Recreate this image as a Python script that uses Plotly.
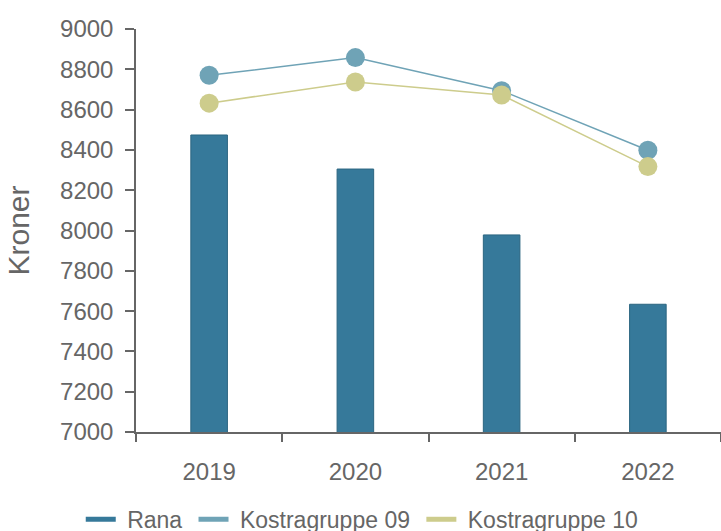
import plotly.graph_objects as go

years = ["2019", "2020", "2021", "2022"]
rana = [8474, 8305, 7978, 7634]
kostra09 = [8770, 8858, 8694, 8398]
kostra10 = [8632, 8737, 8672, 8317]
series_names = ["Rana", "Kostragruppe 09", "Kostragruppe 10"]

c_rana = "#36799a"
c_k09 = "#6fa3b6"
c_k10 = "#cdcc8c"
font_family = "Liberation Sans, Arial, sans-serif"
grey = "#666666"
nb = "\u00a0"

fig = go.Figure()
fig.add_trace(go.Bar(x=years, y=rana, name=series_names[0],
                     marker=dict(color=c_rana, line=dict(color="#2b6580", width=1)),
                     width=0.25, showlegend=False))
fig.add_trace(go.Scatter(x=years, y=kostra09, name=series_names[1], mode="lines+markers",
                         line=dict(color=c_k09, width=1.5), marker=dict(size=19, color=c_k09), showlegend=False))
fig.add_trace(go.Scatter(x=years, y=kostra10, name=series_names[2], mode="lines+markers",
                         line=dict(color=c_k10, width=1.5), marker=dict(size=19, color=c_k10), showlegend=False))
for name, col in zip(series_names, [c_rana, c_k09, c_k10]):
    fig.add_trace(go.Scatter(x=[None], y=[None], name=nb + name + nb, mode="lines",
                             line=dict(color=col, width=5)))

fig.update_layout(
    width=721, height=531,
    margin=dict(l=136, r=0, t=29, b=99),
    plot_bgcolor="white", paper_bgcolor="white",
    font=dict(family=font_family, color=grey, size=24),
    showlegend=True,
    legend=dict(orientation="h", x=0.112, xanchor="left", xref="container",
                y=0.022, yanchor="middle", yref="container",
                font=dict(size=23, color=grey), tracegroupgap=0),
)
fig.update_xaxes(showline=True, linecolor=grey, linewidth=1.5, ticks="outside", tickson="boundaries",
                 ticklen=8, tickcolor=grey, tickwidth=1.5, showgrid=False, ticklabelstandoff=17,
                 tickfont=dict(size=24, color=grey), automargin=False)
fig.update_yaxes(range=[7000, 9000], dtick=200, showline=True, linecolor=grey, linewidth=1.5,
                 ticks="outside", ticklen=9, tickcolor=grey, tickwidth=1.5, showgrid=False,
                 ticklabelstandoff=7, tickfont=dict(size=24, color=grey), automargin=False,
                 title=dict(text="Kroner", font=dict(size=30, color=grey), standoff=22), zeroline=False)

fig.write_html("out.html", config={"displayModeBar": False},
               post_script="document.body.style.margin='0';document.body.style.overflow='hidden';")
